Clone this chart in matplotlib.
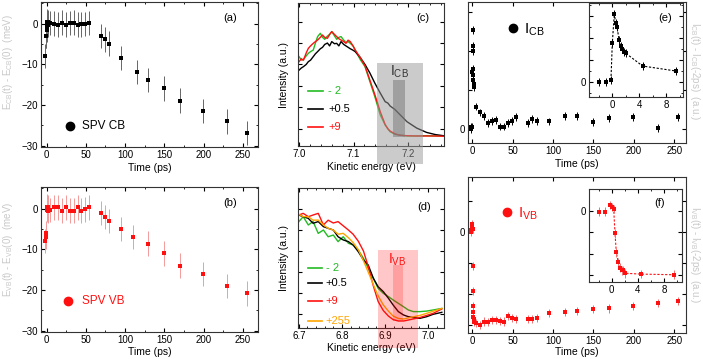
import numpy as np
import matplotlib
matplotlib.use('Agg')
import matplotlib.pyplot as plt
from matplotlib.patches import Rectangle

# ---- data ----
# delay times (ps)
t_cb = [-2, -1, -0.2, 0, 0.3, 0.5, 0.7, 1, 1.3, 1.5, 1.7, 2, 4.5, 9.5, 14.5, 19.5, 24.5, 29.5,
        34.5, 39.5, 44.5, 49.5, 54.5, 69.5, 74.5, 79.5, 94.5, 114.5, 129.5, 149.5, 169.5,
        199.5, 229.5, 254.5]
t_vb = [-2, -1, -0.2, 0, 0.3, 0.5, 0.7, 1, 1.3, 1.5, 1.7, 2, 4.5, 9.5, 14.5, 19.5, 24.5, 29.5,
        34.5, 39.5, 44.5, 49.5, 54.5, 69.5, 74.5, 79.5, 94.5, 109.5, 129.5, 149.5, 169.5,
        199.5, 229.5, 254.5]
t_main = [-2, -1, -0.2, 0, 0.3, 0.5, 0.7, 1, 1.3, 1.5, 1.7, 2, 4.5, 9.5, 14.5, 19.5, 24.5, 29.5,
          34.5, 39.5, 44.5, 49.5, 54.5, 69.5, 74.5, 79.5, 94.5, 114.5, 129.5, 149.5, 169.5,
          199.5, 229.5, 254.5]
t_inset = [-2, -1, -0.2, 0, 0.3, 0.5, 0.7, 1, 1.3, 1.5, 1.7, 2, 4.5, 9.5]

# (a) SPV CB shift (meV)
spv_cb = [-8, -3, -3, -1.5, -0.5, 0, 0.5, 0.2, -0.3, 0.3, 0, 0.2, 0.2, 0, -0.25, 0.25, -0.25, 0.1,
          0.25, -0.25, -0.2, -0.1, 0.1, -3.0, -3.9, -4.9, -8.5, -11.9, -13.9, -15.9, -18.9,
          -21.5, -24.0, -26.9]
# (b) SPV VB shift (meV)
spv_vb = [-8, -7, -6, 0, 0.5, -0.3, 0.3, 0, -0.5, 0.4, 0, -0.3, -0.3, 0.3, 0.3, -0.5, 0.3, -0.5,
          -0.5, 0.3, -0.5, -0.2, 0.3, -1.1, -2.0, -3.0, -5.0, -7.0, -8.6, -11.0, -14.0, -16.0,
          -19.0, -20.8]
spv_err = 3.0

# (e) I_CB, (f) I_VB
i_cb = [0.0, 0.05, 0.07, 1.45, 2.54, 2.13, 2.0, 1.53, 1.39, 1.26, 1.16, 1.07, 0.58, 0.43, 0.34,
        0.17, 0.22, 0.24, 0.07, 0.07, 0.17, 0.22, 0.31, 0.17, 0.27, 0.22, 0.20, 0.34, 0.34, 0.19,
        0.29, 0.32, 0.03, 0.31]
i_vb = [0.0, 0.05, 0.25, 0.15, 0.1, -1.09, -1.92, -2.4, -2.57, -2.73, -2.8, -2.89, -2.95, -3.0,
        -2.89, -2.91, -2.84, -2.83, -2.87, -2.89, -2.71, -2.78, -2.82, -2.82, -2.82, -2.78,
        -2.63, -2.58, -2.54, -2.49, -2.47, -2.38, -2.28, -2.23]
i_cb_inset = [0, 0, 0.08, 1.74, 3.1, 2.65, 2.5, 1.9, 1.62, 1.47, 1.36, 1.29, 0.71, 0.48]
i_vb_inset = [-0.03, -0.03, 0.28, 0.19, 0.09, -1.05, -1.94, -2.41, -2.66, -2.78, -2.77, -2.92,
              -2.96, -2.99]

# (c) spectra near CB
e_c = [7.000, 7.004, 7.008, 7.013, 7.017, 7.021, 7.026, 7.030, 7.034, 7.039, 7.043, 7.047, 7.052,
       7.056, 7.060, 7.065, 7.069, 7.073, 7.077, 7.082, 7.086, 7.090, 7.094, 7.099, 7.103, 7.112,
       7.121, 7.130, 7.139, 7.149, 7.158, 7.163, 7.167, 7.176, 7.185, 7.198, 7.216, 7.234, 7.250,
       7.265]
c_m2 = [0.625, 0.60, 0.606, 0.63, 0.648, 0.66, 0.671, 0.72, 0.765, 0.788, 0.76, 0.746, 0.769,
        0.78, 0.80, 0.77, 0.746, 0.76, 0.765, 0.74, 0.723, 0.73, 0.718, 0.70, 0.671, 0.606, 0.555,
        0.45, 0.345, 0.217, 0.147, 0.12, 0.10, 0.082, 0.077, 0.07, 0.07, 0.072, 0.07, 0.07]
c_p05 = [0.531, 0.545, 0.555, 0.57, 0.59, 0.60, 0.625, 0.645, 0.66, 0.68, 0.69, 0.71, 0.72, 0.70,
         0.73, 0.715, 0.718, 0.70, 0.73, 0.71, 0.70, 0.69, 0.68, 0.67, 0.66, 0.62, 0.57, 0.51,
         0.44, 0.37, 0.31, 0.30, 0.28, 0.255, 0.22, 0.17, 0.125, 0.095, 0.08, 0.072]
c_p9 = [0.59, 0.61, 0.60, 0.65, 0.683, 0.70, 0.718, 0.73, 0.741, 0.76, 0.776, 0.76, 0.753, 0.78,
        0.80, 0.78, 0.765, 0.75, 0.741, 0.73, 0.718, 0.74, 0.73, 0.70, 0.671, 0.62, 0.56, 0.46,
        0.36, 0.24, 0.15, 0.12, 0.105, 0.085, 0.075, 0.072, 0.07, 0.07, 0.07, 0.068]

# (d) spectra near VB
e_d = [6.700, 6.710, 6.722, 6.733, 6.745, 6.757, 6.768, 6.780, 6.791, 6.803, 6.815, 6.826, 6.838,
       6.850, 6.861, 6.873, 6.884, 6.896, 6.908, 6.919, 6.931, 6.943, 6.954, 6.966, 6.981, 6.997,
       7.012, 7.032]
d_m2 = [0.76, 0.795, 0.736, 0.76, 0.676, 0.70, 0.652, 0.664, 0.617, 0.652, 0.605, 0.593, 0.557,
        0.498, 0.426, 0.355, 0.283, 0.248, 0.224, 0.20, 0.176, 0.152, 0.129, 0.117, 0.117, 0.121,
        0.129, 0.14]
d_p05 = [0.807, 0.795, 0.783, 0.748, 0.76, 0.724, 0.712, 0.70, 0.652, 0.629, 0.617, 0.593, 0.545,
         0.486, 0.45, 0.355, 0.295, 0.26, 0.212, 0.164, 0.117, 0.093, 0.081, 0.074, 0.069, 0.081,
         0.098, 0.112]
d_p9 = [0.807, 0.819, 0.795, 0.807, 0.819, 0.736, 0.77, 0.75, 0.76, 0.73, 0.70, 0.67, 0.62, 0.55,
        0.44, 0.30, 0.19, 0.125, 0.085, 0.06, 0.05, 0.05, 0.057, 0.065, 0.075, 0.09, 0.105, 0.136]
d_p255 = [0.812, 0.795, 0.795, 0.77, 0.771, 0.736, 0.712, 0.70, 0.67, 0.676, 0.645, 0.61, 0.56,
          0.48, 0.40, 0.31, 0.23, 0.165, 0.12, 0.085, 0.068, 0.064, 0.072, 0.08, 0.09, 0.105,
          0.12, 0.14]

plt.rcParams['font.family'] = ['Liberation Sans', 'DejaVu Sans']
plt.rcParams['mathtext.fontset'] = 'custom'
plt.rcParams['mathtext.rm'] = 'Liberation Sans'
plt.rcParams['mathtext.it'] = 'Liberation Sans:italic'
plt.rcParams['font.size'] = 7
plt.rcParams['xtick.direction'] = 'in'
plt.rcParams['ytick.direction'] = 'in'
plt.rcParams['xtick.top'] = True
plt.rcParams['ytick.right'] = True
plt.rcParams['xtick.major.size'] = 3
plt.rcParams['ytick.major.size'] = 3
plt.rcParams['xtick.minor.size'] = 1.5
plt.rcParams['ytick.minor.size'] = 1.5
plt.rcParams['xtick.major.pad'] = 2.5
plt.rcParams['ytick.major.pad'] = 2.5
plt.rcParams['axes.linewidth'] = 0.8
plt.rcParams['axes.edgecolor'] = '#333333'

W, H = 703, 359
fig = plt.figure(figsize=(W / 100, H / 100), dpi=100)


def box(l, t, r, b):
    # axes rectangle given in pixels from the top-left corner
    return fig.add_axes([l / W, 1 - b / H, (r - l) / W, (b - t) / H])


def errs(ax, t, v, e, c, ec, ms=2.5):
    ax.errorbar(t, v, yerr=e, fmt='s', color=c, ms=ms, mew=0, ecolor=ec,
                elinewidth=0.7, capsize=1.8, capthick=0.7, zorder=3)


grey = '#c8c8c8'
red = '#ff1010'

# ---- (a) ----
ax = box(41, 2, 258, 147)
errs(ax, t_cb, spv_cb, spv_err, 'black', '#666666')
ax.set_xlim(-7, 269)
ax.set_ylim(-30.3, 5.3)
ax.set_xticks(range(0, 251, 50))
ax.set_xticks(range(0, 260, 25), minor=True)
ax.set_yticks([0, -10, -20, -30])
ax.set_yticks(range(-30, 6, 5), minor=True)
ax.set_xlabel('Time (ps)', fontsize=7.5, labelpad=2)
ax.plot([0.134], [0.145], 'o', color='black', ms=6, transform=ax.transAxes)
ax.text(0.189, 0.145, 'SPV CB', transform=ax.transAxes, fontsize=8.5, va='center')
ax.text(0.871, 0.89, '(a)', transform=ax.transAxes, fontsize=8, ha='center', va='center')

# ---- (b) ----
ax = box(41, 187, 258, 332)
errs(ax, t_vb, spv_vb, spv_err, red, '#f49a9a')
ax.set_xlim(-7, 269)
ax.set_ylim(-30.3, 5.3)
ax.set_xticks(range(0, 251, 50))
ax.set_xticks(range(0, 260, 25), minor=True)
ax.set_yticks([0, -10, -20, -30])
ax.set_yticks(range(-30, 6, 5), minor=True)
ax.set_xlabel('Time (ps)', fontsize=7.5, labelpad=1)
ax.plot([0.124], [0.214], 'o', color=red, ms=6, transform=ax.transAxes)
ax.text(0.189, 0.214, 'SPV VB', transform=ax.transAxes, fontsize=8.5, va='center', color=red)
ax.text(0.871, 0.89, '(b)', transform=ax.transAxes, fontsize=8, ha='center', va='center')

fig.text(8 / W, 1 - 62 / H, r'E$_{\rm CB}$(t) - E$_{\rm CB}$(0)  (meV)', rotation=90,
         color=grey, fontsize=7, ha='center', va='center')
fig.text(8 / W, 1 - 249 / H, r'E$_{\rm VB}$(t) - E$_{\rm VB}$(0)  (meV)', rotation=90,
         color=grey, fontsize=7, ha='center', va='center')

# ---- (c) ----
ax = box(298, 3, 444, 146)
ax.plot(e_c, c_m2, color='#22bb22', lw=1)
ax.plot(e_c, c_p05, color='black', lw=1)
ax.plot(e_c, c_p9, color=red, lw=1)
ax.add_patch(Rectangle((7.1426, -0.126), 7.227 - 7.1426, 0.706, facecolor='#999999',
                       alpha=0.5, lw=0, clip_on=False, zorder=4))
ax.add_patch(Rectangle((7.173, 0.063), 7.1945 - 7.173, 0.397, facecolor='#777777',
                       alpha=0.5, lw=0, zorder=4))
ax.text(7.166, 0.52, r'I$_{\rm CB}$', fontsize=10, color='#333333', va='center', zorder=5)
ax.set_xlim(6.998, 7.266)
ax.set_ylim(0, 1)
ax.set_xticks([7.0, 7.1, 7.2])
ax.set_xticks(np.arange(7.0, 7.27, 0.02), minor=True)
ax.set_yticks(np.arange(0.12, 0.95, 0.15))
ax.set_yticklabels([])
ax.set_xlabel('Kinetic energy (eV)', fontsize=7.5, labelpad=2)
ax.set_ylabel('Intensity (a.u.)', fontsize=7.5, labelpad=4)
for y, lab, c in [(0.387, '- 2', '#22bb22'), (0.257, '+0.5', 'black'), (0.131, '+9', red)]:
    ax.plot([0.068, 0.171], [y, y], color=c, lw=1.2, transform=ax.transAxes)
    ax.text(0.205, y, lab, color=c, fontsize=8, va='center', transform=ax.transAxes)
ax.text(0.856, 0.895, '(c)', transform=ax.transAxes, fontsize=8, ha='center', va='center')

# ---- (d) ----
ax = box(298, 188, 444, 328)
ax.plot(e_d, d_m2, color='#22bb22', lw=1)
ax.plot(e_d, d_p05, color='black', lw=1)
ax.plot(e_d, d_p9, color=red, lw=1)
ax.plot(e_d, d_p255, color='#ffa500', lw=1)
ax.add_patch(Rectangle((6.8837, -0.143), 6.977 - 6.8837, 0.70, facecolor='red',
                       alpha=0.22, lw=0, clip_on=False, zorder=4))
ax.add_patch(Rectangle((6.9186, 0.05), 6.9419 - 6.9186, 0.40, facecolor='red',
                       alpha=0.2, lw=0, zorder=4))
ax.text(6.906, 0.486, r'I$_{\rm VB}$', fontsize=10, color=red, va='center', zorder=5)
ax.set_xlim(6.698, 7.037)
ax.set_ylim(0, 1)
ax.set_xticks([6.7, 6.8, 6.9, 7.0])
ax.set_xticks(np.arange(6.7, 7.04, 0.02), minor=True)
ax.set_yticks(np.arange(0.1, 0.95, 0.15))
ax.set_yticklabels([])
ax.set_xlabel('Kinetic energy (eV)', fontsize=7.5, labelpad=1)
ax.set_ylabel('Intensity (a.u.)', fontsize=7.5, labelpad=4)
for y, lab, c in [(0.429, '- 2', '#22bb22'), (0.321, '+0.5', 'black'), (0.193, '+9', red),
                  (0.05, '+255', '#ffa500')]:
    ax.plot([0.068, 0.165], [y, y], color=c, lw=1.2, transform=ax.transAxes)
    ax.text(0.19, y, lab, color=c, fontsize=8, va='center', transform=ax.transAxes)
ax.text(0.863, 0.864, '(d)', transform=ax.transAxes, fontsize=8, ha='center', va='center')

# ---- (e) ----
ax = box(468, 2, 686, 143)
errs(ax, t_main, i_cb, 0.1, 'black', 'black', ms=2.2)
ax.set_xlim(-5.3, 264.5)
ax.set_ylim(-0.35, 3.25)
ax.set_xticks(range(0, 251, 50))
ax.set_yticks([0, 1, 2, 3])
ax.set_yticklabels(['0', '', '', ''])
ax.set_xlabel('Time (ps)', fontsize=7.5, labelpad=2)
ax.plot([0.205], [0.813], 'o', color='black', ms=6, transform=ax.transAxes)
ax.text(0.255, 0.80, r'I$_{\rm CB}$', transform=ax.transAxes, fontsize=11, va='center')

ins = box(589, 3, 683, 97)
errs(ins, t_inset, i_cb_inset, 0.18, 'black', 'black', ms=2.2)
ins.plot(t_inset[2:], i_cb_inset[2:], ls='--', color='black', lw=0.8, dashes=(2, 1.5))
ins.set_xlim(-3.45, 10.47)
ins.set_ylim(-0.7, 3.58)
ins.set_xticks([0, 4, 8])
ins.set_xticks(range(-2, 11, 2), minor=True)
ins.set_yticks([0, 1, 2, 3])
ins.set_yticklabels(['0', '', '', ''])
ins.set_yticks(np.arange(-0.5, 3.6, 0.5), minor=True)
ins.text(0.81, 0.84, '(e)', transform=ins.transAxes, fontsize=8, ha='center', va='center')

fig.text(695 / W, 1 - 71 / H, r'I$_{\rm CB}$(t) - I$_{\rm CB}$(-2ps)  (a.u.)', rotation=270,
         color=grey, fontsize=7, ha='center', va='center')

# ---- (f) ----
ax = box(468, 177, 686, 333)
errs(ax, t_main, i_vb, 0.13, red, '#f07070', ms=2.2)
ax.set_xlim(-5.3, 264.5)
ax.set_ylim(-3.26, 1.77)
ax.set_xticks(range(0, 251, 50))
ax.set_yticks([-3, -2, -1, 0, 1])
ax.set_yticklabels(['', '', '', '0', ''])
ax.set_xlabel('Time (ps)', fontsize=7.5, labelpad=0.5)
ax.plot([0.178], [0.778], 'o', color=red, ms=6, transform=ax.transAxes)
ax.text(0.228, 0.765, r'I$_{\rm VB}$', transform=ax.transAxes, fontsize=11, va='center',
        color=red)

ins = box(589, 189, 682, 282)
errs(ins, t_inset, i_vb_inset, 0.2, red, '#f07070', ms=2.2)
ins.plot(t_inset[2:], i_vb_inset[2:], ls='--', color=red, lw=0.8, dashes=(2, 1.5))
ins.set_xlim(-3.47, 10.73)
ins.set_ylim(-3.33, 1.03)
ins.set_xticks([0, 4, 8])
ins.set_xticks(range(-2, 11, 2), minor=True)
ins.set_yticks([-3, -2, -1, 0])
ins.set_yticklabels(['', '', '', '0'])
ins.text(0.76, 0.85, '(f)', transform=ins.transAxes, fontsize=8, ha='center', va='center')

fig.text(695 / W, 1 - 255 / H, r'I$_{\rm VB}$(t) - I$_{\rm VB}$(-2ps)  (a.u.)', rotation=270,
         color=grey, fontsize=7, ha='center', va='center')

fig.savefig('out.png', dpi=100)
